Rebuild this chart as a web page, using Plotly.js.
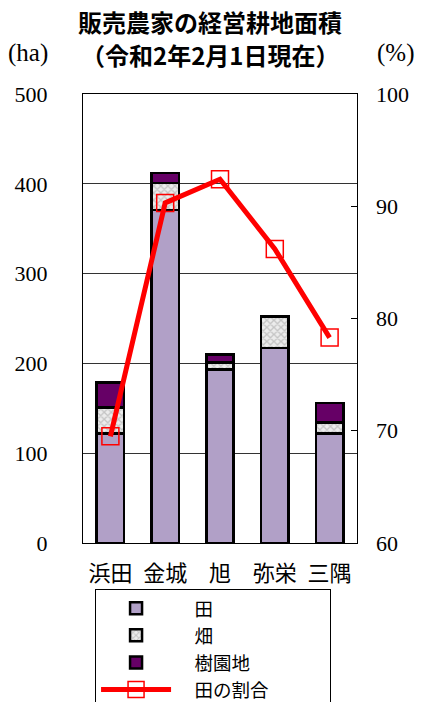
<!DOCTYPE html>
<html><head><meta charset="utf-8">
<script src="https://cdn.plot.ly/plotly-3.0.1.min.js"></script>
<style>html,body{margin:0;padding:0;background:#fff;}#chart{width:429px;height:702px;}</style>
</head><body><div id="chart"></div>
<script>
var categories = ['浜田', '金城', '旭', '弥栄', '三隅'];
var paddy = [122, 371, 193, 217, 122];      // 田 (ha)
var field = [29, 30, 8, 35, 12];           // 畑 (ha)
var orchard = [28, 11, 9, 0, 22];          // 樹園地 (ha)
var paddyShare = [69.5, 90.3, 92.4, 86.2, 78.3]; // 田の割合 (%)
var seriesNames = ['田', '畑', '樹園地', '田の割合'];
var titleLines = ['販売農家の経営耕地面積', '（令和2年2月1日現在）'];

var JP = '"Noto Sans CJK JP", sans-serif';
var SERIF = '"Liberation Serif", "Times New Roman", serif';
var outline = {color: '#000', width: 2.5};
var SP = '\u3000';
function legendName(i) { return SP + seriesNames[i] + (i === 3 ? SP + SP + SP : ''); }

var traces = [
  {type: 'bar', name: legendName(0), x: categories, y: paddy, width: 0.5,
   marker: {color: '#b1a0c7', line: outline}},
  {type: 'bar', name: legendName(1), x: categories, y: field, width: 0.5,
   marker: {color: '#e8e8e8', line: outline,
            pattern: {shape: 'x', bgcolor: '#ececec', fgcolor: '#c4c4c4', size: 5, solidity: 0.45}}},
  {type: 'bar', name: legendName(2), x: categories, y: orchard, width: 0.5,
   marker: {color: '#660066', line: outline}},
  {type: 'scatter', mode: 'lines+markers', name: legendName(3), x: categories, y: paddyShare,
   yaxis: 'y2', line: {color: '#ff0000', width: 5},
   marker: {symbol: 'square-open', size: 17, color: '#ff0000', line: {color: '#ff0000', width: 1.5}}}
];

var layout = {
  width: 429, height: 702,
  margin: {l: 83, r: 72, t: 94, b: 159, autoexpand: false},
  paper_bgcolor: '#fff', plot_bgcolor: '#fff',
  barmode: 'stack',
  showlegend: true,
  xaxis: {showline: true, mirror: true, linecolor: '#000', linewidth: 1,
          tickfont: {family: JP, size: 22, color: '#000'}, ticks: '', ticklabelstandoff: 11,
          fixedrange: true},
  yaxis: {range: [0, 500], dtick: 100, showline: true, mirror: true, linecolor: '#000', linewidth: 1,
          showgrid: true, gridcolor: '#333', gridwidth: 1, zeroline: false,
          tickfont: {family: SERIF, size: 22, color: '#000'}, ticks: '', ticklabelstandoff: 30},
  yaxis2: {range: [60, 100], dtick: 10, overlaying: 'y', side: 'right', showgrid: false,
           zeroline: false, showline: false, ticks: 'inside', ticklen: 6, tickcolor: '#000',
           tickfont: {family: SERIF, size: 22, color: '#000'}, ticklabelstandoff: 18},
  legend: {x: 0.044, xanchor: 'left', y: -0.102, yanchor: 'top', traceorder: 'normal',
           bgcolor: '#fff', bordercolor: '#000', borderwidth: 1,
           font: {family: JP, size: 18.5, color: '#000'}, itemwidth: 70, tracegroupgap: 0},
  annotations: [
    {text: '<b>' + titleLines[0] + '</b>', xref: 'paper', yref: 'paper', x: 0.463, y: 1.162,
     xanchor: 'center', yanchor: 'middle', showarrow: false, font: {family: JP, size: 24, color: '#000'}},
    {text: '<b>' + titleLines[1] + '</b>', xref: 'paper', yref: 'paper', x: 0.463, y: 1.089,
     xanchor: 'center', yanchor: 'middle', showarrow: false, font: {family: JP, size: 24, color: '#000'}},
    {text: '(ha)', xref: 'paper', yref: 'paper', x: -0.28, y: 1.092, xanchor: 'left', yanchor: 'middle',
     showarrow: false, font: {family: SERIF, size: 25, color: '#000'}},
    {text: '(%)', xref: 'paper', yref: 'paper', x: 1.065, y: 1.092, xanchor: 'left', yanchor: 'middle',
     showarrow: false, font: {family: SERIF, size: 25, color: '#000'}}
  ]
};

Plotly.newPlot('chart', traces, layout, {staticPlot: true});
</script></body></html>
